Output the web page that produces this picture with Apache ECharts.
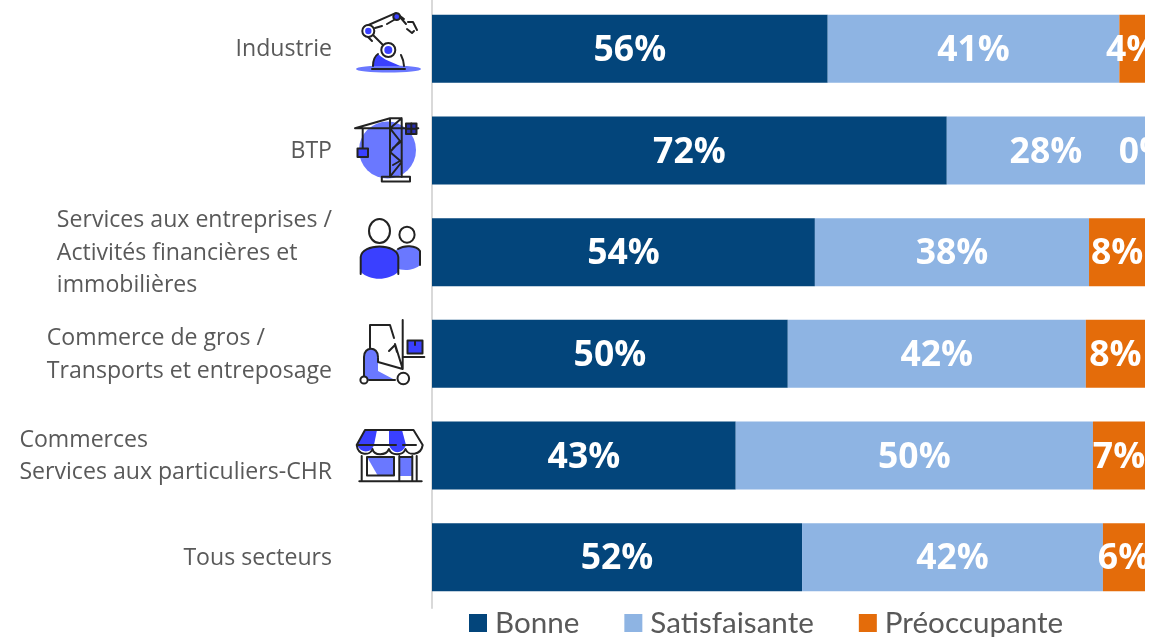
<!DOCTYPE html>
<html>
<head>
<meta charset="utf-8">
<style>html,body{margin:0;padding:0;background:#fff;overflow:hidden}#c{width:1145px;height:637px;overflow:hidden}</style>
<script src="https://cdn.jsdelivr.net/npm/echarts@6/dist/echarts.min.js"></script>
</head>
<body>
<div id="c"></div>
<script>
const categories = ["Industrie","BTP","Services aux entreprises /\nActivités financières et\nimmobilières","Commerce de gros /\nTransports et entreposage","Commerces\nServices aux particuliers-CHR","Tous secteurs"];
const bonne = [55.5,72.2,53.7,49.9,42.6,51.9];
const satisfaisante = [40.9,27.8,38.45,41.8,50.1,42.2];
const preoccupante = [3.6,0,7.85,8.3,7.3,5.9];
const seriesNames = ["Bonne","Satisfaisante","Préoccupante"];
const seriesColors = ["#03457b","#8eb4e3","#e46c0a"];

const B1="#3a40ff",B2="#6a78ff",K="#222";
const iconsSvg = `<svg xmlns="http://www.w3.org/2000/svg" viewBox="340 0 90 500" width="90" height="500" fill="none" stroke="${K}" stroke-width="2" stroke-linejoin="round" stroke-linecap="round">
<ellipse cx="388.5" cy="69" rx="32.5" ry="3.6" fill="${B2}" stroke="none"/>
<path d="M373 66C374 60 375 56 378 54C384 60 392 62 400 66Z" fill="${B1}" stroke="none"/>
<path d="M373 66C373 60 375 56 378 54M401 55C403 59 404 62 404 66M372 69H405" />
<path d="M365 26.5L395 13.3M387 24L399 17M400 17L406 24M373 35L383 45M375 28L382 26M368 37L372 41M396 13L404 19M408 22L413 22L417 30M407 29L412 33L414 31"/>
<circle cx="368.3" cy="31" r="6" fill="#fff"/><circle cx="368.3" cy="31" r="3.2" fill="${B1}" stroke="none"/>
<circle cx="396.7" cy="16.7" r="3.4" fill="${B1}"/>
<circle cx="388.3" cy="50" r="7" fill="#fff"/><circle cx="388.3" cy="50" r="4" fill="${B1}" stroke="none"/>

<circle cx="387.5" cy="150" r="28.5" fill="${B2}" stroke="none"/>
<path d="M355 128.3H418.3M355 128.3L390 118.3H401.7V176.7M390 118.3V176.7M390 128.3L401.7 118.3M390 128.3L400 141L390 152L401.7 162L390 176.7M401.7 141L393 148M401.7 160L393 165M362.7 128.3V148.3"/>
<rect x="357.5" y="148.5" width="10.5" height="8.5" fill="${B1}"/>
<rect x="406" y="123.5" width="10.5" height="10.5" fill="#2a2fb0"/><path d="M411.3 123.5V134M406 128.7H416.5"/>
<path d="M381.8 176.7H410V181.5H381.8ZM404 181.5H410"/>

<path d="M396 250C403 244 417 245 420 251V265C414 271 402 271 396 268Z" fill="${B2}" stroke="none"/>
<path d="M398 249C404 245 416 245 420 251V265"/>
<ellipse cx="407" cy="234.7" rx="7.6" ry="8"/>
<path d="M360.7 257C362 243 397 243 398.3 257V272C388 281 370 281 360.7 272Z" fill="${B1}" stroke="none"/>
<path d="M360.7 274V257C362 243 397 243 398.3 257V274"/>
<ellipse cx="379.5" cy="231" rx="10.5" ry="12"/>

<path d="M364 380V358C364 346 378 346 378 358V371L395 380H370Z" fill="${B2}" stroke="none"/>
<path d="M364 376V357C364 346 378 346 378 357M370 348V325H390L394 338M378 362L402.7 369V320M395 344L402.7 369M389 351L395 345L397 352M403.3 357H424.3M369 380H395M378 358V362"/>
<rect x="407.5" y="340.5" width="15" height="13" fill="${B1}"/><path d="M415 341V345"/>
<circle cx="364" cy="380" r="3.6" fill="#fff"/><circle cx="403.3" cy="378.5" r="5.8" fill="#fff"/>

<path d="M365 430H377L374 445C372 452 362 455 357 445Z" fill="${B1}" stroke="none"/>
<path d="M389 430H402L406 445C402 455 392 454 389 445Z" fill="${B1}" stroke="none"/>
<path d="M367 457H394V476H378Z" fill="${B2}" stroke="none"/>
<rect x="400" y="457" width="12" height="19" fill="${B2}" stroke="none"/>
<path d="M365 430H413.5L422.7 445C421 456 408 456 405.5 449C403 456 391 456 389 449C386 456 374 456 372.5 449C370 456 358 456 356.7 445ZM357 445H396M403 445H416M361.7 456V481M416.7 456V481M412.3 456V481M399.3 456V481M399.3 457H412.3M359.3 481.3H421.7"/>
<rect x="367" y="457" width="27" height="18.5"/>
</svg>`;

const chart = echarts.init(document.getElementById('c'), null, {renderer:'canvas'});
const values = [bonne,satisfaisante,preoccupante];
chart.setOption({
  animation:false,
  backgroundColor:'#fff',
  grid:{left:432,right:0,top:-2,bottom:29,containLabel:false,outerBoundsMode:'none'},
  legend:{
    left:469,top:608,padding:0,itemWidth:18,itemHeight:18,itemGap:45,icon:'rect',
    textStyle:{fontFamily:'Lato',fontSize:29.6,color:'#595959',padding:[0,0,0,3]},
    data:seriesNames
  },
  xAxis:{type:'value',min:0,max:100,show:false},
  yAxis:{
    type:'category',inverse:true,data:categories,offset:1,
    axisLine:{show:true,lineStyle:{color:'#d9d9d9',width:2}},
    axisTick:{show:false},
    axisLabel:{
      margin:99,color:'#595959',fontFamily:'Open Sans',fontSize:23.1,lineHeight:32.5,align:'right',padding:[2,0,0,0],
      formatter:v=>v.split('\n').map(s=>'{a|'+s+'}').join('\n'),
      rich:{a:{fontFamily:'Open Sans',fontSize:23.1,lineHeight:32.5,color:'#595959',align:'left'}}
    }
  },
  series:seriesNames.map((n,i)=>({
    name:n,type:'bar',stack:'t',barWidth:68,data:values[i],
    itemStyle:{color:seriesColors[i]},
    label:{show:true,position:'inside',offset:[0,2],color:'#fff',fontFamily:'Open Sans',fontWeight:'bold',fontSize:35.5,formatter:p=>Math.round(p.value)+'%'}
  })),
  graphic:[{type:'image',silent:true,z:10,style:{image:'data:image/svg+xml;charset=utf-8,'+encodeURIComponent(iconsSvg),x:340,y:0,width:90,height:500}}]
});
</script>
</body>
</html>
